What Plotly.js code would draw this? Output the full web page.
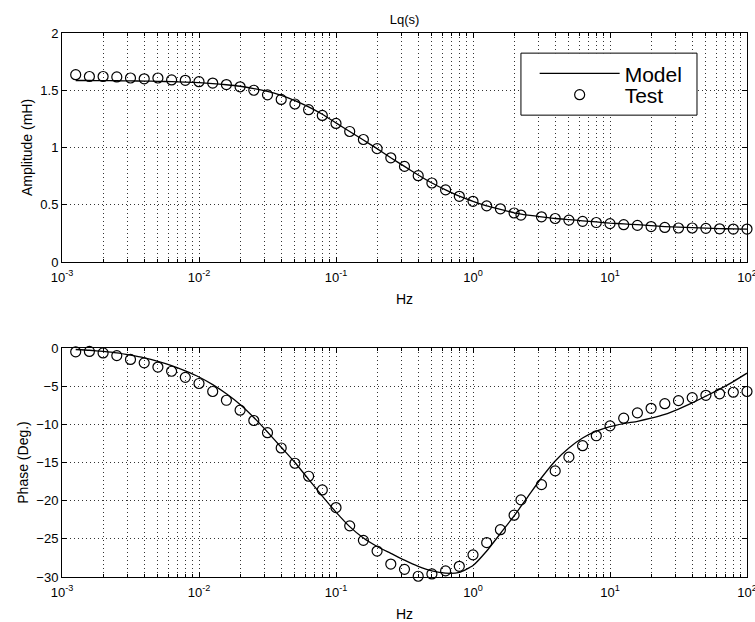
<!DOCTYPE html>
<html>
<head>
<meta charset="utf-8">
<script src="https://cdn.plot.ly/plotly-3.0.1.min.js"></script>
<style>
  html, body { margin: 0; padding: 0; background: #fff; }
  #chart { width: 755px; height: 622px; }
</style>
</head>
<body>
<div id="chart"></div>
<script>
// ---- Data ----
// Test measurement frequencies (Hz)
const testFreq = [0.001259, 0.001585, 0.001995, 0.002512, 0.003162, 0.003981, 0.005012, 0.00631, 0.007943, 0.01,
  0.01259, 0.01585, 0.01995, 0.02512, 0.03162, 0.03981, 0.05012, 0.0631, 0.07943, 0.1,
  0.1259, 0.1585, 0.1995, 0.2512, 0.3162, 0.3981, 0.5012, 0.631, 0.7943, 1.0,
  1.259, 1.585, 1.995, 2.239, 3.162, 3.981, 5.012, 6.31, 7.943, 10.0,
  12.59, 15.85, 19.95, 25.12, 31.62, 39.81, 50.12, 63.1, 79.43, 100.0];
// Test amplitude (mH)
const testAmp = [1.636, 1.62, 1.62, 1.616, 1.607, 1.60, 1.607, 1.59, 1.587, 1.575,
  1.563, 1.55, 1.53, 1.50, 1.46, 1.42, 1.38, 1.33, 1.28, 1.21,
  1.14, 1.07, 0.99, 0.91, 0.835, 0.754, 0.69, 0.63, 0.574, 0.53,
  0.49, 0.465, 0.428, 0.41, 0.395, 0.38, 0.366, 0.355, 0.345, 0.335,
  0.326, 0.32, 0.31, 0.302, 0.297, 0.297, 0.294, 0.29, 0.288, 0.288];
// Test phase (deg)
const testPhase = [-0.5, -0.45, -0.65, -1.0, -1.5, -1.95, -2.5, -3.05, -3.85, -4.65,
  -5.7, -6.85, -8.15, -9.5, -11.1, -13.1, -15.1, -16.8, -18.6, -20.9,
  -23.3, -25.2, -26.6, -28.3, -29.0, -29.9, -29.6, -29.2, -28.6, -27.1,
  -25.5, -23.8, -21.9, -19.9, -17.9, -16.1, -14.3, -12.8, -11.5, -10.2,
  -9.2, -8.5, -7.9, -7.3, -6.9, -6.5, -6.2, -6.0, -5.8, -5.7];

// Model frequencies (Hz)
const modelFreq = [0.001259, 0.001585, 0.001995, 0.002512, 0.003162, 0.003981, 0.005012, 0.00631, 0.007943, 0.01,
  0.01259, 0.01585, 0.01995, 0.02512, 0.03162, 0.03981, 0.05012, 0.0631, 0.07943, 0.1,
  0.1259, 0.1585, 0.1995, 0.2512, 0.3162, 0.3981, 0.5012, 0.631, 0.7943, 1.0,
  1.259, 1.585, 1.995, 2.512, 3.162, 3.981, 5.012, 6.31, 7.943, 10.0,
  12.59, 15.85, 19.95, 25.12, 31.62, 39.81, 50.12, 63.1, 79.43, 100.0];
// Model amplitude (mH)
const modelAmp = [1.585, 1.585, 1.584, 1.583, 1.582, 1.580, 1.578, 1.575, 1.571, 1.566,
  1.558, 1.548, 1.535, 1.515, 1.49, 1.455, 1.41, 1.355, 1.29, 1.215,
  1.14, 1.065, 0.99, 0.91, 0.835, 0.76, 0.69, 0.63, 0.575, 0.53,
  0.49, 0.46, 0.43, 0.41, 0.395, 0.38, 0.37, 0.36, 0.35, 0.34,
  0.333, 0.326, 0.318, 0.31, 0.304, 0.30, 0.296, 0.292, 0.289, 0.287];
// Model phase (deg)
const modelPhase = [-0.2, -0.3, -0.45, -0.65, -0.95, -1.3, -1.75, -2.3, -3.0, -3.8,
  -4.8, -6.0, -7.4, -9.1, -11.0, -13.0, -15.0, -17.2, -19.4, -21.5,
  -23.4, -24.9, -26.0, -26.9, -27.8, -28.6, -29.2, -29.5, -29.4, -28.5,
  -26.6, -24.3, -22.0, -19.5, -17.0, -14.8, -13.1, -11.8, -10.9, -10.3,
  -9.9, -9.6, -9.2, -8.7, -8.0, -7.2, -6.3, -5.4, -4.4, -3.3];

// Axis tick labels
const decadeVals = [0.001, 0.01, 0.1, 1, 10, 100];
const decadeText = ['10<sup>-3</sup>', '10<sup>-2</sup>', '10<sup>-1</sup>', '10<sup>0</sup>', '10<sup>1</sup>', '10<sup>2</sup>'];

// ---- Axis structure (minor log positions) ----
const minorVals = [];
for (let d = -3; d <= 1; d++) {
  for (let m = 2; m <= 9; m++) minorVals.push(m * Math.pow(10, d));
}

const FONT = '"Liberation Sans", Arial, Helvetica, sans-serif';
const GRID = '#333';
const DASH = '1px,3px';

function xAxis(anchor) {
  return {
    type: 'log', range: [-3, 2], anchor: anchor,
    tickmode: 'array', tickvals: decadeVals, ticktext: decadeText,
    ticks: 'inside', ticklen: 5, tickcolor: '#000',
    showline: true, linecolor: '#000', linewidth: 1, mirror: 'ticks',
    showgrid: true, gridcolor: GRID, griddash: DASH, gridwidth: 1,
    minor: { tickmode: 'array', tickvals: minorVals, ticks: 'inside', ticklen: 3, tickcolor: '#000',
             showgrid: true, gridcolor: GRID, griddash: DASH, gridwidth: 1 },
    tickfont: { size: 13, color: '#000', family: FONT },
    ticklabelstandoff: 3, ticklabeloverflow: 'allow',
    title: { text: 'Hz', font: { size: 14, color: '#000', family: FONT }, standoff: 10 },
    zeroline: false, automargin: false
  };
}
function yAxis(anchor, domain, range, dtick, title) {
  return {
    anchor: anchor, domain: domain, range: range, dtick: dtick, tick0: 0,
    ticks: 'inside', ticklen: 5, tickcolor: '#000',
    showline: true, linecolor: '#000', linewidth: 1, mirror: 'ticks',
    showgrid: true, gridcolor: GRID, griddash: DASH, gridwidth: 1,
    tickfont: { size: 13, color: '#000', family: FONT },
    title: { text: title, font: { size: 14, color: '#000', family: FONT }, standoff: 4 },
    zeroline: false, automargin: false
  };
}

const modelLine = { color: '#000', width: 1.3, shape: 'spline', smoothing: 0.5 };
const testMarker = { symbol: 'circle-open', size: 10, color: '#000', line: { width: 1.2, color: '#000' } };

const traces = [
  { x: modelFreq, y: modelAmp, xaxis: 'x', yaxis: 'y', name: 'Model', mode: 'lines',
    line: modelLine, showlegend: true, legend: 'legend' },
  { x: testFreq, y: testAmp, xaxis: 'x', yaxis: 'y', name: 'Test', mode: 'markers',
    marker: testMarker, cliponaxis: false, showlegend: true, legend: 'legend2' },
  { x: modelFreq, y: modelPhase, xaxis: 'x2', yaxis: 'y2', name: 'Model', mode: 'lines',
    line: modelLine, showlegend: false },
  { x: testFreq, y: testPhase, xaxis: 'x2', yaxis: 'y2', name: 'Test', mode: 'markers',
    marker: testMarker, cliponaxis: false, showlegend: false }
];

const legendStyle = (yPos) => ({
  x: 0.690, y: yPos, xanchor: 'left', yanchor: 'middle',
  bgcolor: 'rgba(0,0,0,0)', borderwidth: 0,
  font: { size: 21, color: '#000', family: FONT },
  itemwidth: 80
});

const layout = {
  width: 755, height: 622,
  margin: { l: 62, r: 8, t: 33, b: 45 },
  paper_bgcolor: '#fff', plot_bgcolor: '#fff',
  font: { family: FONT, color: '#000' },
  title: { text: 'Lq(s)', font: { size: 13, color: '#000', family: FONT },
           x: 0.5, xref: 'paper', y: 1 - 19 / 622, yref: 'container', yanchor: 'middle' },
  xaxis: xAxis('y'),
  yaxis: yAxis('x', [0.579, 1], [0, 2], 0.5, 'Amplitude (mH)'),
  xaxis2: xAxis('y2'),
  yaxis2: yAxis('x2', [0, 0.421], [-30, 0], 5, 'Phase (Deg.)'),
  showlegend: true,
  legend: legendStyle(0.925),
  legend2: legendStyle(0.886),
  shapes: [
    { type: 'rect', xref: 'paper', yref: 'paper', x0: 0.670, x1: 0.927, y0: 0.849, y1: 0.963,
      fillcolor: '#fff', line: { color: '#000', width: 1 }, layer: 'above' }
  ]
};

Plotly.newPlot('chart', traces, layout, { displayModeBar: false, staticPlot: true });
</script>
</body>
</html>
